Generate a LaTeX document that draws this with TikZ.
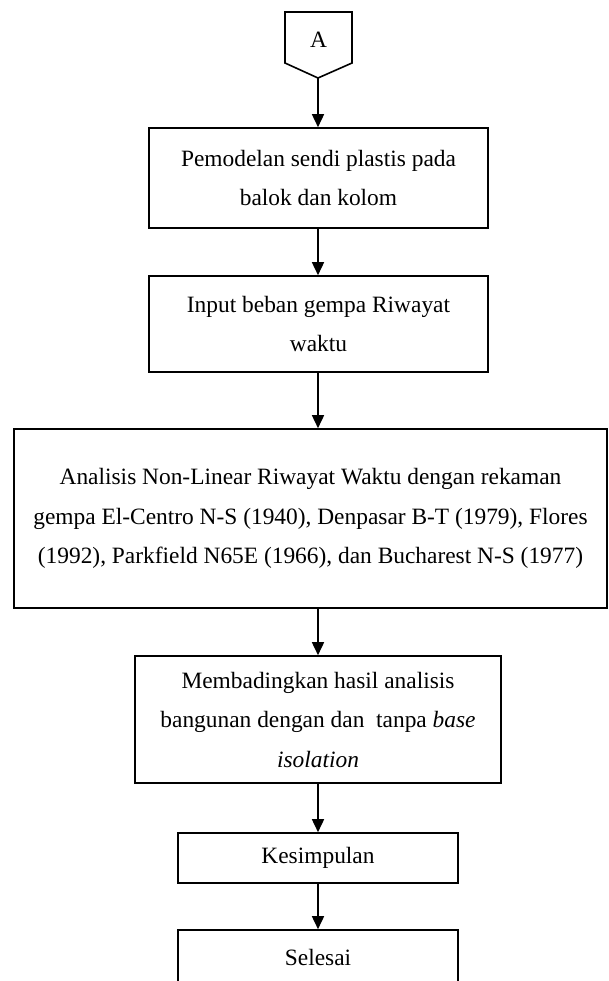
\documentclass[tikz,border=0pt]{standalone}
\usepackage{fontspec}
\setmainfont{Liberation Serif}
\usetikzlibrary{arrows.meta}

\tikzset{
    box/.style={draw, line width=1.6pt, align=center, inner sep=0pt,
        font=\fontsize{23.4}{39.5}\selectfont},
    flow/.style={-{Triangle[length=13pt, width=12pt]}, line width=1.6pt}
}

\begin{document}
\begin{tikzpicture}[x=1pt, y=-1pt]
        \useasboundingbox (0, 0) rectangle (609, 981);
        \clip (0, 0) rectangle (609, 981);

        % Connector A
        \coordinate (Atip) at (318, 78);
        \draw[line width=1.6pt] (285, 12) -- (352, 12) -- (352, 63) -- (Atip) -- (285, 63) -- cycle;
        \node[font=\fontsize{23.4}{28}\selectfont] (A) at (318.5, 40) {A};

        % Steps
        \node[box, minimum width=339, minimum height=100] (model) at (318.5, 178)
            {Pemodelan sendi plastis pada\\ balok dan kolom};
        \node[box, minimum width=339, minimum height=96] (input) at (318.5, 324)
            {Input beban gempa Riwayat\\ waktu};
        \node[box, minimum width=593, minimum height=179] (analisis) at (310.5, 518.5)
            {Analisis Non-Linear Riwayat Waktu dengan rekaman\\
             gempa El-Centro N-S (1940), Denpasar B-T (1979), Flores\\
             (1992), Parkfield N65E (1966), dan Bucharest N-S (1977)};
        \node[box, minimum width=366, minimum height=127] (banding) at (318, 719.5)
            {Membadingkan hasil analisis\\ bangunan dengan dan\ \ tanpa \textit{base}\\ \textit{isolation}};
        \node[box, minimum width=280, minimum height=50] (simpul) at (318, 858) {Kesimpulan};
        \node[box, minimum width=280, minimum height=54] (selesai) at (318, 957) {Selesai};

        % Arrows
        \draw[flow] (Atip) -- (model.north -| Atip);
        \draw[flow] (model.south -| Atip) -- (input.north -| Atip);
        \draw[flow] (input.south -| Atip) -- (analisis.north -| Atip);
        \draw[flow] (analisis.south -| Atip) -- (banding.north -| Atip);
        \draw[flow] (banding.south -| Atip) -- (simpul.north -| Atip);
        \draw[flow] (simpul.south -| Atip) -- (selesai.north -| Atip);

    \end{tikzpicture}
\end{document}
